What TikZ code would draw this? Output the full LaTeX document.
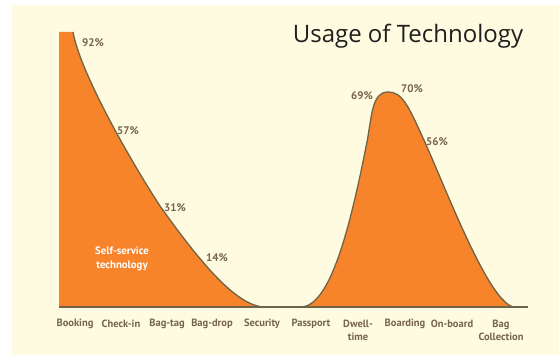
\documentclass[tikz,border=0pt]{standalone}
\usepackage{fontspec}
\setmainfont{PT Sans}
\newfontfamily\titlefont{Open Sans}
\definecolor{cream}{HTML}{FEFBE1}
\definecolor{techorange}{HTML}{F7842B}
\definecolor{curvebrown}{HTML}{6F6447}
\definecolor{labelbrown}{HTML}{76644C}

\begin{document}
\begin{tikzpicture}[x=1pt,y=-1pt]
            \tikzset{pct/.style = {font=\bfseries\fontsize{11}{13}\selectfont, text=labelbrown}}
            \tikzset{stage/.style = {font=\bfseries\fontsize{10.5}{12.5}\selectfont, text=labelbrown, align=center}}
            \tikzset{outline/.style = {draw=curvebrown, line width=1.3pt}}
            \useasboundingbox (0,0) rectangle (559,358);
            \fill[cream] (12,5) rectangle (559,355);
            % areas
            \fill[techorange] (59,307) -- (59,32) -- (73,32) .. controls (80,72) and (130,160) .. (160,206)
                .. controls (195,255) and (235,307) .. (265,307) -- cycle;
            \fill[techorange] (300,307) .. controls (330,308) and (350,228) .. (367,142)
                .. controls (372,115) and (372,92) .. (388,92)
                .. controls (402,92) and (408,105) .. (423,138)
                .. controls (445,186) and (490,307) .. (515,307) -- cycle;
            % curves
            \draw[outline] (73,32) .. controls (80,72) and (130,160) .. (160,206)
                .. controls (195,255) and (235,307) .. (265,307);
            \draw[outline] (300,307) .. controls (330,308) and (350,228) .. (367,142)
                .. controls (372,115) and (372,92) .. (388,92)
                .. controls (402,92) and (408,105) .. (423,138)
                .. controls (445,186) and (490,307) .. (515,307);
            \draw[outline] (59,307) -- (528,307);
            % percentages
            \node[pct] (p92) at (93,43) {92\%};
            \node[pct] (p57) at (128,131) {57\%};
            \node[pct] (p31) at (175,208) {31\%};
            \node[pct] (p14) at (217,258) {14\%};
            \node[pct] (p69) at (362,96) {69\%};
            \node[pct] (p70) at (412,89) {70\%};
            \node[pct] (p56) at (437,142) {56\%};
            \node[font=\bfseries\fontsize{10.8}{13.5}\selectfont, text=white, align=center] (self) at (122,259) {Self-service\\technology};
            % stages
            \node[stage] (booking) at (75,324) {Booking};
            \node[stage] (checkin) at (121,324) {Check-in};
            \node[stage] (bagtag) at (167,324) {Bag-tag};
            \node[stage] (bagdrop) at (212,324) {Bag-drop};
            \node[stage] (security) at (262,324) {Security};
            \node[stage] (passport) at (311,324) {Passport};
            \node[stage, anchor=north] (dwell) at (358,317) {Dwell-\\time};
            \node[stage] (boarding) at (405,324) {Boarding};
            \node[stage] (onboard) at (452,324) {On-board};
            \node[stage, anchor=north] (bagcoll) at (501,317) {Bag\\Collection};
            % title
            \node[font=\titlefont\fontsize{24}{28}\selectfont, text=black!88] (title) at (408,36) {Usage of Technology};
        \end{tikzpicture}
\end{document}
